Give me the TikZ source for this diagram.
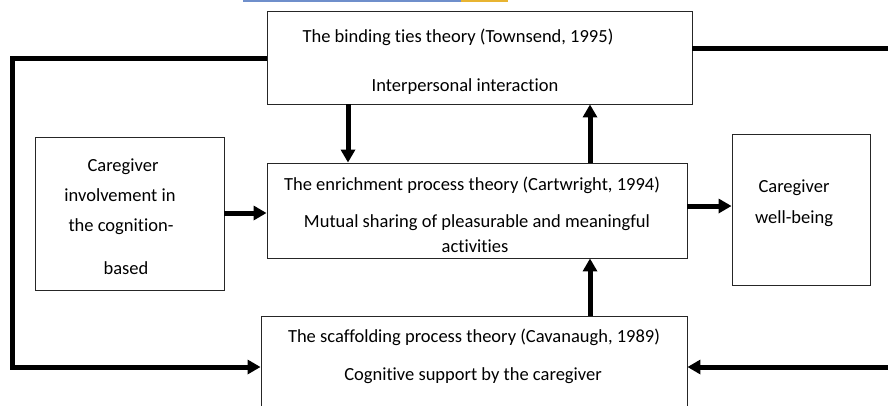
\documentclass[tikz,border=0pt]{standalone}
\usepackage{fontspec}
\setmainfont{Carlito}[Ligatures=NoCommon]
\usetikzlibrary{arrows.meta}
\definecolor{barblue}{HTML}{6F8FCB}
\definecolor{baryellow}{HTML}{E8B431}
\tikzset{
  box/.style={draw=black!85, line width=0.9pt, inner sep=0pt},
  txt/.style={inner sep=0pt, anchor=base, font=\fontsize{18.5}{22}\selectfont},
  link/.style={line width=5pt, -{Triangle[length=13pt,width=14pt]}},
  plain/.style={line width=5pt}
}
\begin{document}
\begin{tikzpicture}[x=1pt,y=-1pt]
    \useasboundingbox (0,0) rectangle (888,405);
    \fill[barblue] (243,0) rectangle (461,1.6);
    \fill[baryellow] (461,0) rectangle (508,1.6);
    % boxes
    \node[box, minimum width=425pt, minimum height=93pt] (binding) at (479.5,57.5) {};
    \node[box, minimum width=420pt, minimum height=95pt] (enrich) at (477,210.5) {};
    \node[box, minimum width=426pt, minimum height=100pt] (scaffold) at (474,366) {};
    \node[box, minimum width=189pt, minimum height=153pt] (involve) at (129.5,213.5) {};
    \node[box, minimum width=138pt, minimum height=151pt] (wellbeing) at (801,209.5) {};
    % texts
    \node[txt] (binding1) at (458,42) {The binding ties theory (Townsend, 1995)};
    \node[txt] (binding2) at (465,91) {Interpersonal interaction};
    \node[txt] (enrich1) at (472,190) {The enrichment process theory (Cartwright, 1994)};
    \node[txt] (enrich2) at (477,227) {Mutual sharing of pleasurable and meaningful};
    \node[txt] (enrich3) at (475,252) {activities};
    \node[txt] (scaffold1) at (474,342) {The scaffolding process theory (Cavanaugh, 1989)};
    \node[txt] (scaffold2) at (473,380) {Cognitive support by the caregiver};
    \node[txt] (involve1) at (123,171) {Caregiver};
    \node[txt] (involve2) at (120,201) {involvement in};
    \node[txt] (involve3) at (121,231) {the cognition-};
    \node[txt] (involve4) at (126,274) {based};
    \node[txt] (wellbeing1) at (794,192) {Caregiver};
    \node[txt] (wellbeing2) at (794,223) {well-being};
    % connectors
    \coordinate (rightin) at (890,367);
    \coordinate (rightout) at (890,48);
    \draw[link] (binding.south -| 348,0) -- (enrich.north -| 348,0);
    \draw[link] (enrich.north -| 590,0) -- (binding.south -| 590,0);
    \draw[link] (scaffold.north -| 590,0) -- (enrich.south -| 590,0);
    \draw[link] (involve.east |- 0,213) -- (enrich.west |- 0,213);
    \draw[link] (enrich.east |- 0,206) -- (wellbeing.west |- 0,206);
    \draw[link, line cap=butt] (binding.west |- 0,58) -| (12,367) -- (scaffold.west |- 0,367);
    \draw[link] (rightin) -- (scaffold.east |- rightin);
    \draw[plain] (binding.east |- rightout) -- (rightout);
\end{tikzpicture}
\end{document}
